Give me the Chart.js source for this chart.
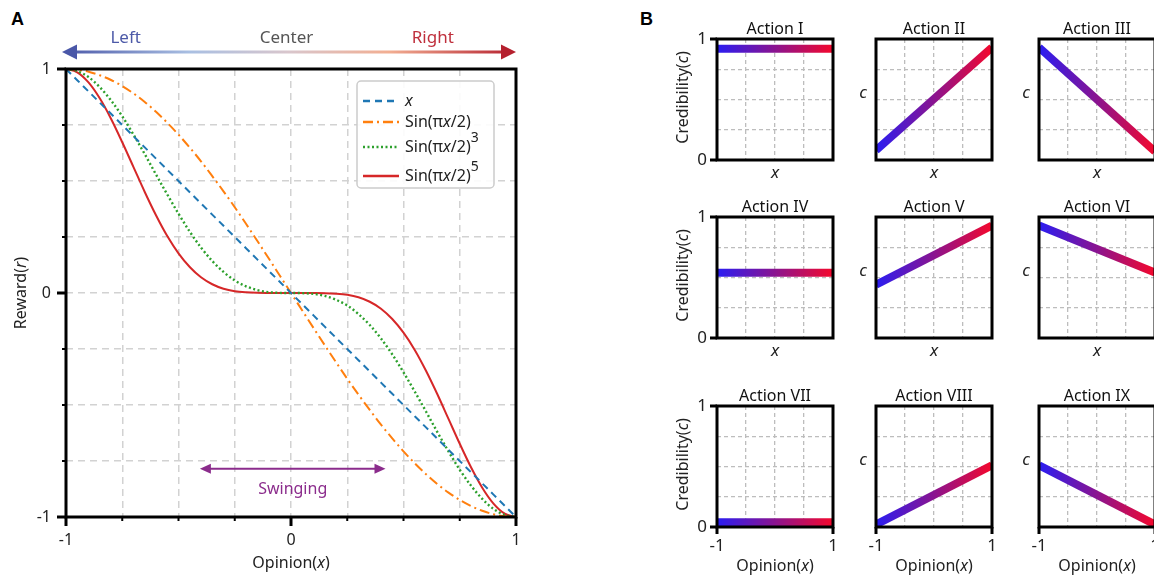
<!DOCTYPE html>
<html>
<head>
<meta charset="utf-8">
<script src="https://cdn.jsdelivr.net/npm/chart.js@4.4.0/dist/chart.umd.min.js"></script>
<style>
html, body { margin: 0; padding: 0; background: #fff; width: 1154px; height: 576px; overflow: hidden; }
.box { position: absolute; }
.panel { position: absolute; font: bold 18px 'Liberation Sans', Arial, sans-serif; color: #000; }
</style>
</head>
<body>
<div class="panel" style="left:11px;top:9px">A</div>
<div class="panel" style="left:640px;top:9px">B</div>
<div class="box" id="boxA" style="left:0;top:0;width:560px;height:576px"><canvas id="cA"></canvas></div>
<script>
// ---- data, panel A ----
const opinion = [-1, -0.95, -0.9, -0.85, -0.8, -0.75, -0.7, -0.65, -0.6, -0.55, -0.5, -0.45, -0.4, -0.35, -0.3, -0.25, -0.2, -0.15, -0.1, -0.05,
  0, 0.05, 0.1, 0.15, 0.2, 0.25, 0.3, 0.35, 0.4, 0.45, 0.5, 0.55, 0.6, 0.65, 0.7, 0.75, 0.8, 0.85, 0.9, 0.95, 1];
const rewardLinear = [1, 0.95, 0.9, 0.85, 0.8, 0.75, 0.7, 0.65, 0.6, 0.55, 0.5, 0.45, 0.4, 0.35, 0.3, 0.25, 0.2, 0.15, 0.1, 0.05,
  0, -0.05, -0.1, -0.15, -0.2, -0.25, -0.3, -0.35, -0.4, -0.45, -0.5, -0.55, -0.6, -0.65, -0.7, -0.75, -0.8, -0.85, -0.9, -0.95, -1];
const rewardSin = [1, 0.997, 0.988, 0.972, 0.951, 0.924, 0.891, 0.853, 0.809, 0.760, 0.707, 0.649, 0.588, 0.522, 0.454, 0.383, 0.309, 0.233, 0.156, 0.078,
  0, -0.078, -0.156, -0.233, -0.309, -0.383, -0.454, -0.522, -0.588, -0.649, -0.707, -0.760, -0.809, -0.853, -0.891, -0.924, -0.951, -0.972, -0.988, -0.997, -1];
const rewardSin3 = [1, 0.991, 0.964, 0.919, 0.860, 0.789, 0.707, 0.620, 0.529, 0.440, 0.354, 0.274, 0.203, 0.143, 0.094, 0.056, 0.030, 0.013, 0.004, 0.0005,
  0, -0.0005, -0.004, -0.013, -0.030, -0.056, -0.094, -0.143, -0.203, -0.274, -0.354, -0.440, -0.529, -0.620, -0.707, -0.789, -0.860, -0.919, -0.964, -0.991, -1];
const rewardSin5 = [1, 0.985, 0.940, 0.869, 0.778, 0.673, 0.562, 0.451, 0.347, 0.254, 0.177, 0.116, 0.070, 0.039, 0.019, 0.008, 0.003, 0.0007, 0.0001, 0,
  0, 0, -0.0001, -0.0007, -0.003, -0.008, -0.019, -0.039, -0.070, -0.116, -0.177, -0.254, -0.347, -0.451, -0.562, -0.673, -0.778, -0.869, -0.940, -0.985, -1];
const majorTicks = [-1, 0, 1];
const minorTicks = [-0.75, -0.5, -0.25, 0.25, 0.5, 0.75];

// ---- data, panel B ----
const actionNames = ['Action I', 'Action II', 'Action III', 'Action IV', 'Action V', 'Action VI', 'Action VII', 'Action VIII', 'Action IX'];
const opinionEnds = [-1, 1];
const credAtLeft  = [0.92, 0.08, 0.93, 0.54, 0.44, 0.93, 0.04, 0.02, 0.51];
const credAtRight = [0.92, 0.93, 0.07, 0.54, 0.93, 0.54, 0.04, 0.51, 0.02];

Chart.defaults.font.family = "'Noto Sans', sans-serif";
Chart.defaults.color = '#222';

const FONT = "'Noto Sans', sans-serif";

// draws text made of parts (italic / superscript) as one line
function rich(ctx, parts, x, y, size, align, color, rot) {
  ctx.save();
  ctx.translate(x, y);
  if (rot) ctx.rotate(rot);
  ctx.fillStyle = color || '#222';
  ctx.textBaseline = 'middle';
  ctx.textAlign = 'left';
  const fontOf = p => (p.i ? 'italic ' : '') + (p.sup ? Math.round(size * 0.85) : size) + 'px ' + FONT;
  let w = 0;
  parts.forEach(p => { ctx.font = fontOf(p); w += ctx.measureText(p.t).width; });
  let cx = align === 'center' ? -w / 2 : (align === 'right' ? -w : 0);
  parts.forEach(p => {
    ctx.font = fontOf(p);
    ctx.fillText(p.t, cx, p.sup ? -size * 0.55 : 0);
    cx += ctx.measureText(p.t).width;
  });
  ctx.restore();
}

function arrowHead(ctx, tipX, tipY, dir, len, half, color) {
  ctx.fillStyle = color;
  ctx.beginPath();
  ctx.moveTo(tipX, tipY);
  ctx.lineTo(tipX - dir * len, tipY - half);
  ctx.lineTo(tipX - dir * len, tipY + half);
  ctx.closePath();
  ctx.fill();
}

function frame(ctx, a) {
  ctx.save();
  ctx.strokeStyle = '#000';
  ctx.lineWidth = 3;
  ctx.strokeRect(a.left, a.top, a.right - a.left, a.bottom - a.top);
  ctx.restore();
}

const pts = ys => opinion.map((x, i) => ({ x: x, y: ys[i] }));

const legendItems = [
  { color: '#1f77b4', dash: [7, 5], parts: [{ t: 'x', i: true }] },
  { color: '#ff7f0e', dash: [10, 4, 2, 4], parts: [{ t: 'Sin(π' }, { t: 'x', i: true }, { t: '/2)' }] },
  { color: '#2ca02c', dash: [2, 2.5], parts: [{ t: 'Sin(π' }, { t: 'x', i: true }, { t: '/2)' }, { t: '3', sup: true }] },
  { color: '#d62728', dash: [], parts: [{ t: 'Sin(π' }, { t: 'x', i: true }, { t: '/2)' }, { t: '5', sup: true }] }
];
const legendRows = [101, 122, 147, 176];

const decoA = {
  id: 'decoA',
  afterDraw(chart) {
    const ctx = chart.ctx, a = chart.chartArea;
    const sx = chart.scales.x, sy = chart.scales.y;
    frame(ctx, a);
    ctx.save();
    ctx.strokeStyle = '#000';
    // ticks
    majorTicks.concat(minorTicks).forEach(v => {
      const major = majorTicks.includes(v);
      ctx.lineWidth = major ? 3 : 2;
      const len = major ? 9 : 4;
      const px = sx.getPixelForValue(v);
      ctx.beginPath(); ctx.moveTo(px, a.bottom); ctx.lineTo(px, a.bottom + len); ctx.stroke();
      const py = sy.getPixelForValue(v);
      ctx.beginPath(); ctx.moveTo(a.left, py); ctx.lineTo(a.left - len, py); ctx.stroke();
    });
    ctx.restore();

    // axis titles
    rich(ctx, [{ t: 'Opinion(' }, { t: 'x', i: true }, { t: ')' }], (a.left + a.right) / 2, 563, 16, 'center', '#222');
    rich(ctx, [{ t: 'Reward(' }, { t: 'r', i: true }, { t: ')' }], 21, 293, 16, 'center', '#222', -Math.PI / 2);

    // top colour arrow
    const x0 = sx.getPixelForValue(-1) - 4, x1 = sx.getPixelForValue(1);
    const ay = 52;
    const g = ctx.createLinearGradient(x0, 0, x1, 0);
    g.addColorStop(0, '#4a57a8');
    g.addColorStop(0.28, '#a9bfe2');
    g.addColorStop(0.5, '#d9c6cc');
    g.addColorStop(0.72, '#f2ae92');
    g.addColorStop(1, '#b5202e');
    ctx.save();
    ctx.strokeStyle = g;
    ctx.lineWidth = 3;
    ctx.beginPath(); ctx.moveTo(x0 + 10, ay); ctx.lineTo(x1 - 10, ay); ctx.stroke();
    arrowHead(ctx, x0, ay, -1, 15, 7.5, '#4a57a8');
    arrowHead(ctx, x1, ay, 1, 15, 7.5, '#b5202e');
    ctx.restore();
    rich(ctx, [{ t: 'Left' }], sx.getPixelForValue(-0.735), 38, 17, 'center', '#4d5aa8');
    rich(ctx, [{ t: 'Center' }], sx.getPixelForValue(-0.02), 38, 17, 'center', '#555');
    rich(ctx, [{ t: 'Right' }], sx.getPixelForValue(0.63), 38, 17, 'center', '#bf2f3c');

    // swinging arrow
    const sl = sx.getPixelForValue(-0.405), sr = sx.getPixelForValue(0.42), syy = sy.getPixelForValue(-0.785);
    ctx.save();
    ctx.strokeStyle = '#8b2c8c';
    ctx.lineWidth = 2;
    ctx.beginPath(); ctx.moveTo(sl + 8, syy); ctx.lineTo(sr - 8, syy); ctx.stroke();
    arrowHead(ctx, sl, syy, -1, 11, 5, '#8b2c8c');
    arrowHead(ctx, sr, syy, 1, 11, 5, '#8b2c8c');
    ctx.restore();
    rich(ctx, [{ t: 'Swinging' }], (sl + sr) / 2, syy + 21, 16, 'center', '#8b2c8c');

    // legend
    ctx.save();
    ctx.fillStyle = 'rgba(255,255,255,0.9)';
    ctx.strokeStyle = '#cccccc';
    ctx.lineWidth = 1.5;
    ctx.beginPath();
    if (ctx.roundRect) ctx.roundRect(357, 81, 137, 107, 4); else ctx.rect(357, 81, 137, 107);
    ctx.fill(); ctx.stroke();
    legendItems.forEach((it, k) => {
      const y = legendRows[k];
      ctx.strokeStyle = it.color;
      ctx.lineWidth = 2.5;
      ctx.setLineDash(it.dash);
      ctx.beginPath(); ctx.moveTo(363, y); ctx.lineTo(399, y); ctx.stroke();
      ctx.setLineDash([]);
      rich(ctx, it.parts, 405, y, 16, 'left', '#222');
    });
    ctx.restore();
  }
};

new Chart(document.getElementById('cA'), {
  type: 'line',
  data: {
    datasets: [
      { label: 'x', data: pts(rewardLinear), borderColor: '#1f77b4', borderDash: [7, 5], borderWidth: 2, pointRadius: 0 },
      { label: 'Sin(πx/2)', data: pts(rewardSin), borderColor: '#ff7f0e', borderDash: [10, 4, 2, 4], borderWidth: 2, pointRadius: 0, cubicInterpolationMode: 'monotone' },
      { label: 'Sin(πx/2)^3', data: pts(rewardSin3), borderColor: '#2ca02c', borderDash: [2, 2.5], borderWidth: 2.4, pointRadius: 0, cubicInterpolationMode: 'monotone' },
      { label: 'Sin(πx/2)^5', data: pts(rewardSin5), borderColor: '#d62728', borderWidth: 2, pointRadius: 0, cubicInterpolationMode: 'monotone' }
    ]
  },
  options: {
    responsive: true,
    maintainAspectRatio: false,
    animation: false,
    layout: { padding: { left: 0, top: 69, right: 44, bottom: 0 } },
    plugins: { legend: { display: false }, tooltip: { enabled: false } },
    scales: {
      x: {
        type: 'linear', min: -1, max: 1,
        afterFit: s => { s.height = 59; },
        ticks: { stepSize: 0.25, autoSkip: false, maxRotation: 0, padding: 5,
          callback: v => majorTicks.includes(v) ? String(v) : '', font: { size: 16 } },
        grid: { color: '#d2d2d2', lineWidth: 1.5, tickLength: 9, tickColor: 'rgba(0,0,0,0)' },
        border: { display: false, dash: [7, 5] }
      },
      y: {
        type: 'linear', min: -1, max: 1,
        afterFit: s => { s.width = 66; },
        ticks: { stepSize: 0.25, autoSkip: false, padding: 6,
          callback: v => majorTicks.includes(v) ? String(v) : '', font: { size: 16 } },
        grid: { color: '#d2d2d2', lineWidth: 1.5, tickLength: 9, tickColor: 'rgba(0,0,0,0)' },
        border: { display: false, dash: [7, 5] }
      }
    }
  },
  plugins: [decoA]
});

// ---- panel B ----
const colLeft = [717, 876, 1039];
const rowTop = [39, 217, 406];
const areaW = 116, areaH = 121;

actionNames.forEach((name, k) => {
  const col = k % 3, row = Math.floor(k / 3);
  const aL = colLeft[col], aT = rowTop[row];
  const padL = 60, padT = 34, padR = 20, padB = 56;
  const div = document.createElement('div');
  div.className = 'box';
  div.style.left = (aL - padL) + 'px';
  div.style.top = (aT - padT) + 'px';
  div.style.width = (padL + areaW + padR) + 'px';
  div.style.height = (padT + areaH + padB) + 'px';
  const cv = document.createElement('canvas');
  div.appendChild(cv);
  document.body.appendChild(div);

  const firstCol = col === 0, lastRow = row === 2;

  const deco = {
    id: 'decoB' + k,
    afterDraw(chart) {
      const ctx = chart.ctx, a = chart.chartArea;
      const sx = chart.scales.x, sy = chart.scales.y;
      frame(ctx, a);
      ctx.save();
      ctx.strokeStyle = '#000';
      ctx.lineWidth = 3;
      if (firstCol) {
        [0, 1].forEach(v => {
          const py = sy.getPixelForValue(v);
          ctx.beginPath(); ctx.moveTo(a.left, py); ctx.lineTo(a.left - 7, py); ctx.stroke();
        });
      }
      if (lastRow) {
        opinionEnds.forEach(v => {
          const px = sx.getPixelForValue(v);
          ctx.beginPath(); ctx.moveTo(px, a.bottom); ctx.lineTo(px, a.bottom + 7); ctx.stroke();
        });
      }
      ctx.restore();
      const cx = (a.left + a.right) / 2, cy = (a.top + a.bottom) / 2;
      rich(ctx, [{ t: name }], cx, a.top - 10, 16, 'center', '#111');
      if (firstCol) {
        rich(ctx, [{ t: 'Credibility(' }, { t: 'c', i: true }, { t: ')' }], a.left - 34, cy - 2, 16, 'center', '#222', -Math.PI / 2);
      } else {
        rich(ctx, [{ t: 'c', i: true }], a.left - 13, cy - 6, 17, 'center', '#222');
      }
      if (lastRow) {
        rich(ctx, [{ t: 'Opinion(' }, { t: 'x', i: true }, { t: ')' }], cx, a.bottom + 39, 16, 'center', '#222');
      } else {
        rich(ctx, [{ t: 'x', i: true }], cx, a.bottom + 13, 17, 'center', '#222');
      }
    }
  };

  new Chart(cv, {
    type: 'line',
    data: {
      datasets: [{
        data: [{ x: opinionEnds[0], y: credAtLeft[k] }, { x: opinionEnds[1], y: credAtRight[k] }],
        borderWidth: 8,
        borderCapStyle: 'butt',
        pointRadius: 0,
        borderColor: c => {
          const ch = c.chart, ar = ch.chartArea;
          if (!ar) return '#8a1490';
          const g = ch.ctx.createLinearGradient(ar.left, 0, ar.right, 0);
          g.addColorStop(0, '#2a1df2');
          g.addColorStop(0.5, '#8a1490');
          g.addColorStop(1, '#f5082c');
          return g;
        }
      }]
    },
    options: {
      responsive: true,
      maintainAspectRatio: false,
      animation: false,
      layout: { padding: { left: 0, top: padT, right: padR, bottom: 0 } },
      plugins: { legend: { display: false }, tooltip: { enabled: false } },
      scales: {
        x: {
          type: 'linear', min: -1, max: 1,
          afterFit: s => { s.height = padB; },
          ticks: { display: lastRow, stepSize: 0.5, autoSkip: false, maxRotation: 0, padding: 2,
            callback: v => opinionEnds.includes(v) ? String(v) : '', font: { size: 17 } },
          grid: { color: '#bdbdbd', lineWidth: 1.3, tickLength: 7, tickColor: 'rgba(0,0,0,0)' },
          border: { display: false, dash: [4, 3] }
        },
        y: {
          type: 'linear', min: 0, max: 1,
          afterFit: s => { s.width = padL; },
          ticks: { display: firstCol, stepSize: 0.25, autoSkip: false, padding: 3,
            callback: v => (v === 0 || v === 1) ? String(v) : '', font: { size: 17 } },
          grid: { color: '#bdbdbd', lineWidth: 1.3, tickLength: 7, tickColor: 'rgba(0,0,0,0)' },
          border: { display: false, dash: [4, 3] }
        }
      }
    },
    plugins: [deco]
  });
});
</script>
</body>
</html>
